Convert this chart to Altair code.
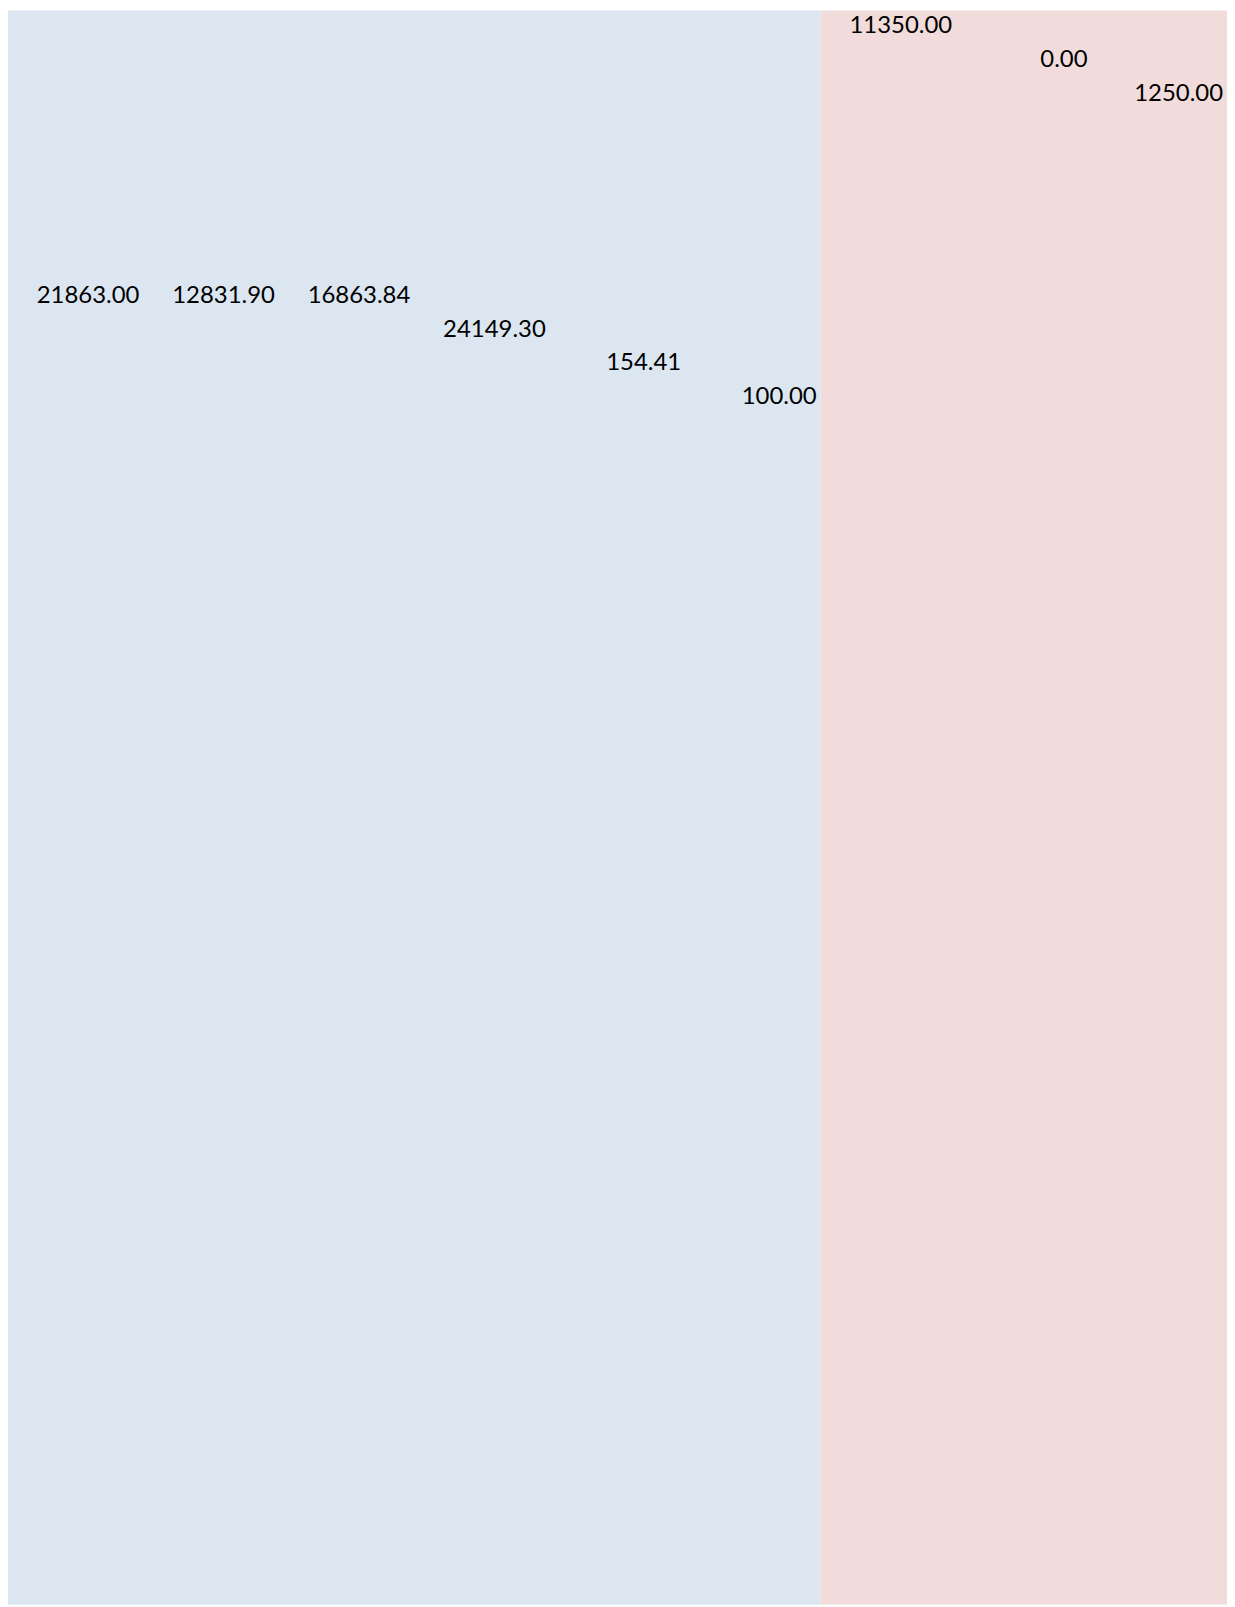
import altair as alt
import pandas as pd

# Values shown as labels, in column order
values = [21863.00, 12831.90, 16863.84, 24149.30, 154.41, 100.00, 11350.00, 0.00, 1250.00]
# Row (level) on which each label sits, counted from the top
rows = [8, 8, 8, 9, 10, 11, 0, 1, 2]
# Group each column belongs to
groups = ["A", "A", "A", "A", "A", "A", "B", "B", "B"]

group_names = ["A", "B"]
group_start = [0, 6]
group_end = [6, 9]
group_colors = ["#DCE6F1", "#F2DCDB"]

W = 1223
H = 1599
ROW_PX = 33.8
N_COLS = len(values)

labels_df = pd.DataFrame({
    "col": list(range(N_COLS)),
    "value": values,
    "row": rows,
    "group": groups,
})
labels_df["col_end"] = labels_df["col"] + 1

bg_df = pd.DataFrame({
    "group": group_names,
    "start": group_start,
    "end": group_end,
})

x_scale = alt.Scale(domain=[0, N_COLS], nice=False, zero=False)
y_scale = alt.Scale(domain=[-0.47, H / ROW_PX - 0.47], nice=False, zero=False, reverse=True)

bg = alt.Chart(bg_df).mark_rect().encode(
    x=alt.X("start:Q", scale=x_scale, axis=None),
    x2="end:Q",
    y=alt.value(0),
    y2=alt.value(H),
    color=alt.Color("group:N",
                    scale=alt.Scale(domain=group_names, range=group_colors),
                    legend=None),
)

txt = alt.Chart(labels_df).mark_text(
    align="right", baseline="middle", dx=-4,
    font="Lato", fontSize=24, color="#000000",
).encode(
    x=alt.X("col_end:Q", scale=x_scale, axis=None),
    y=alt.Y("row:Q", scale=y_scale, axis=None),
    text=alt.Text("value:Q", format=".2f"),
)

chart = alt.layer(bg, txt).properties(
    width=W, height=H, padding=0
).configure_view(stroke=None)

chart.save("out.html", embed_options={"renderer": "svg", "actions": False})
